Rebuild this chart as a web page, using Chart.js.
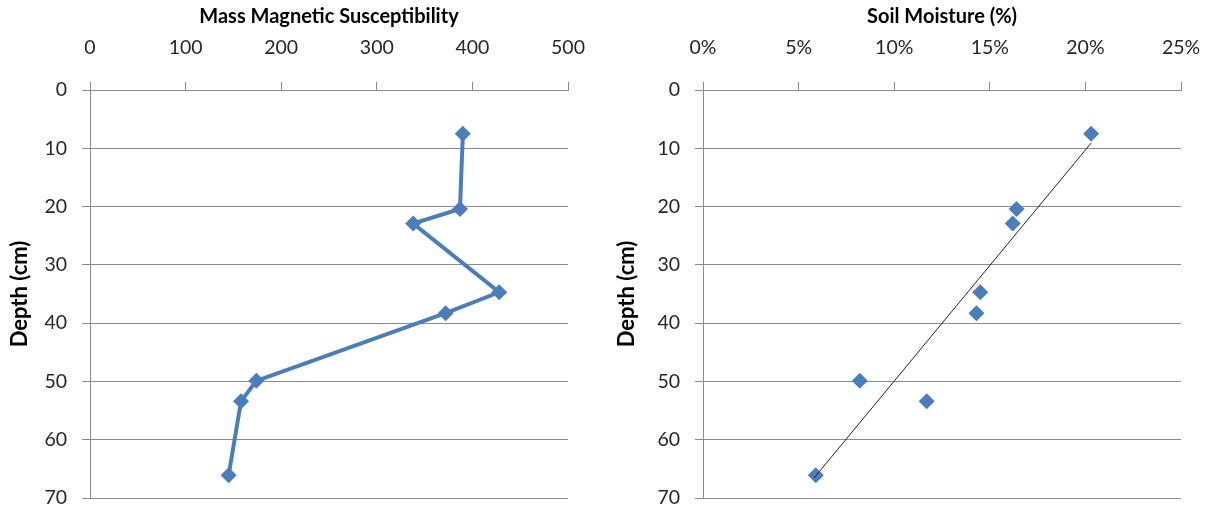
<!DOCTYPE html>
<html>
<head>
<meta charset="UTF-8">
<title>Depth profiles</title>
<script src="https://cdn.jsdelivr.net/npm/chart.js"></script>
<style>
  body { margin: 0; background: #fff; }
  .wrap { position: relative; width: 1210px; height: 512px; }
  canvas { position: absolute; top: 0; }
  #magChart { left: 0; }
  #moistChart { left: 605px; }
</style>
</head>
<body>
<div class="wrap">
  <canvas id="magChart" width="605" height="512"></canvas>
  <canvas id="moistChart" width="605" height="512"></canvas>
</div>

<script>
// sample depths (cm), shared by both profiles
const depths = [7.5, 20.4, 22.9, 34.7, 38.3, 49.9, 53.4, 66.1];
const susceptibility = [390, 387, 338, 428, 372, 174, 158, 145];
const moisture = [0.203, 0.164, 0.162, 0.145, 0.143, 0.082, 0.117, 0.059];
// trendline ends as drawn in the original
const trendMoisture = [0.058, 0.203];
const trendDepth = [66.6, 9.1];

const blue = '#4A7EBB';
const gridGray = '#8C8C8C';
const textColor = '#262626';
const tickFont = { family: 'Lato', size: 19.5 };
const titleFont = { family: 'Lato', size: 20, weight: 'bold' };
const depthFont = { family: 'Lato', size: 22, weight: 'bold' };

function pts(xs, ys) {
    return xs.map((x, i) => ({ x: x, y: ys[i] }));
}

function depthAxis(width, titlePad) {
    return {
        reverse: true, min: 0, max: 70,
        ticks: { stepSize: 10, font: tickFont, color: textColor, padding: 15 },
        grid: { color: gridGray, tickLength: 8, lineWidth: 1 },
        border: { color: gridGray },
        title: { display: true, text: 'Depth (cm)', font: depthFont, color: '#000', padding: { top: titlePad, bottom: 0 } },
        afterFit: s => { s.width = width; s.paddingTop = 0; s.paddingBottom = 0; }
    };
}

function topAxis(title, max, step, fmt) {
    return {
        type: 'linear', position: 'top', min: 0, max: max,
        ticks: { stepSize: step, font: tickFont, color: textColor, padding: 23, callback: fmt },
        grid: { drawOnChartArea: false, color: gridGray, tickLength: 8 },
        border: { color: gridGray },
        title: { display: true, text: title, font: titleFont, color: '#000', padding: { top: 5, bottom: 0 } },
        afterFit: s => { s.height = 90; s.paddingLeft = 0; s.paddingRight = 0; }
    };
}

const common = {
    responsive: false,
    animation: false,
    plugins: { legend: { display: false }, tooltip: { enabled: false } }
};

new Chart(document.getElementById('magChart'), {
    type: 'scatter',
    data: {
        datasets: [{
            data: pts(susceptibility, depths),
            showLine: true,
            borderColor: blue, borderWidth: 4,
            pointStyle: 'rectRot', pointRadius: 8,
            pointBackgroundColor: blue, pointBorderColor: blue, pointBorderWidth: 0
        }]
    },
    options: Object.assign({}, common, {
        layout: { padding: { top: 0, right: 37, bottom: 14, left: 0 } },
        scales: {
            x: topAxis('Mass Magnetic Susceptibility', 500, 100, v => v),
            y: depthAxis(90, 7)
        }
    })
});

new Chart(document.getElementById('moistChart'), {
    type: 'scatter',
    data: {
        datasets: [{
            data: pts(trendMoisture, trendDepth),
            showLine: true,
            borderColor: '#222', borderWidth: 1,
            pointRadius: 0
        }, {
            data: pts(moisture, depths),
            pointStyle: 'rectRot', pointRadius: 8,
            pointBackgroundColor: blue, pointBorderColor: blue, pointBorderWidth: 0
        }]
    },
    options: Object.assign({}, common, {
        layout: { padding: { top: 0, right: 29, bottom: 14, left: 0 } },
        scales: {
            x: topAxis('Soil Moisture (%)', 0.25, 0.05, v => Math.round(v * 100) + '%'),
            y: depthAxis(98, 9)
        }
    })
});
</script>
</body>
</html>
